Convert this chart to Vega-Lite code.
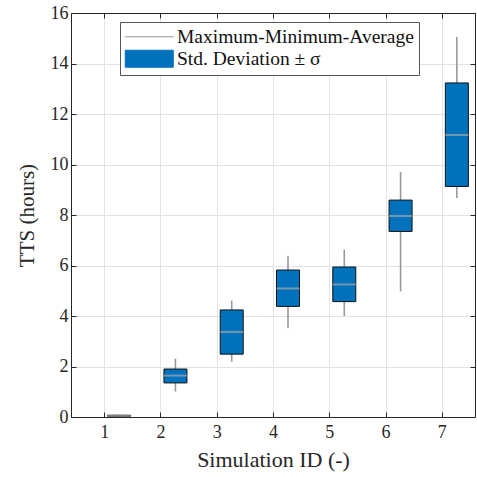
{
  "$schema": "https://vega.github.io/schema/vega-lite/v6.json",
  "width": 404,
  "height": 404,
  "autosize": "none",
  "padding": {"left": 71, "top": 13, "right": 2, "bottom": 60},
  "background": "white",
  "data": {
    "values": [
      {"id": 1, "min": 0.01, "max": 0.09, "mean": 0.05, "lo": 0.03, "hi": 0.07},
      {"id": 2, "min": 1.01, "max": 2.31, "mean": 1.64, "lo": 1.35, "hi": 1.90},
      {"id": 3, "min": 2.19, "max": 4.61, "mean": 3.37, "lo": 2.49, "hi": 4.24},
      {"id": 4, "min": 3.51, "max": 6.39, "mean": 5.09, "lo": 4.38, "hi": 5.82},
      {"id": 5, "min": 4.00, "max": 6.63, "mean": 5.25, "lo": 4.57, "hi": 5.94},
      {"id": 6, "min": 4.97, "max": 9.70, "mean": 7.96, "lo": 7.35, "hi": 8.59},
      {"id": 7, "min": 8.67, "max": 15.05, "mean": 11.17, "lo": 9.13, "hi": 13.23}
    ]
  },
  "layer": [
    {
      "mark": {"type": "rule", "strokeWidth": 1.6, "xOffset": 15},
      "encoding": {
        "x": {
          "field": "id", "type": "quantitative",
          "scale": {"domain": [0.5, 7.5], "nice": false, "zero": false},
          "axis": {
            "orient": "bottom", "values": [1, 2, 3, 4, 5, 6, 7], "format": "d",
            "title": "Simulation ID (-)", "grid": true, "tickSize": -5,
            "labelPadding": 11, "titlePadding": 8,
            "labelFont": "serif", "titleFont": "serif", "titleFontSize": 22
          }
        },
        "y": {
          "field": "min", "type": "quantitative",
          "scale": {"domain": [0, 16], "nice": false},
          "axis": {
            "orient": "left", "values": [0, 2, 4, 6, 8, 10, 12, 14, 16],
            "title": "TTS (hours)", "grid": true, "tickSize": -5,
            "labelPadding": 8, "titlePadding": 13,
            "labelFont": "serif", "titleFont": "serif", "titleFontSize": 21
          }
        },
        "y2": {"field": "max"},
        "color": {
          "datum": "Maximum-Minimum-Average", "type": "nominal",
          "scale": {
            "domain": ["Maximum-Minimum-Average", "Std. Deviation ± σ"],
            "range": ["#999999", "#0072BD"]
          },
          "legend": {
            "title": null, "orient": "none", "legendX": 49, "legendY": 9,
            "fillColor": "white", "strokeColor": "#555555", "padding": 5,
            "rowPadding": 1, "symbolSize": 100, "symbolOffset": 14.5, "labelOffset": 18,
            "labelFont": "serif",
            "labelFontSize": 19.5, "labelColor": "#111111", "labelLimit": 400,
            "encode": {
              "symbols": {
                "update": {
                  "shape": {"signal": "datum.value === 'Maximum-Minimum-Average' ? 'M-4.9,0H4.9' : 'M-4.8,-1.7H4.8V1.7H-4.8Z'"},
                  "stroke": {"signal": "datum.value === 'Maximum-Minimum-Average' ? '#999999' : '#111111'"},
                  "fill": {"signal": "datum.value === 'Maximum-Minimum-Average' ? 'transparent' : '#0072BD'"},
                  "strokeWidth": {"value": 1},
                  "opacity": {"value": 1}
                }
              }
            }
          }
        }
      }
    },
    {
      "mark": {"type": "bar", "width": 23, "xOffset": 15, "stroke": "#111111", "strokeWidth": 1},
      "encoding": {
        "x": {
          "field": "id", "type": "quantitative",
          "axis": {"orient": "top", "values": [1, 2, 3, 4, 5, 6, 7], "labels": false, "title": null, "grid": false, "tickSize": -5}
        },
        "y": {
          "field": "lo", "type": "quantitative",
          "axis": {"orient": "right", "values": [0, 2, 4, 6, 8, 10, 12, 14, 16], "labels": false, "title": null, "grid": false, "tickSize": -5}
        },
        "y2": {"field": "hi"},
        "color": {"datum": "Std. Deviation ± σ", "type": "nominal"}
      }
    },
    {
      "mark": {"type": "tick", "orient": "horizontal", "size": 23, "thickness": 2, "xOffset": 15, "color": "#a6a6a6"},
      "encoding": {
        "x": {"field": "id", "type": "quantitative", "axis": null},
        "y": {"field": "mean", "type": "quantitative", "axis": null}
      }
    }
  ],
  "resolve": {"axis": {"x": "independent", "y": "independent"}},
  "config": {
    "font": "serif",
    "view": {"stroke": null},
    "style": {
      "guide-label": {"font": "serif"},
      "guide-title": {"font": "serif"}
    },
    "axis": {
      "domainColor": "#262626", "domainWidth": 1, "tickColor": "#262626",
      "gridColor": "#e3e3e3", "gridWidth": 1,
      "labelFont": "serif", "labelFontSize": 18, "labelColor": "#262626",
      "titleFont": "serif", "titleFontWeight": "normal", "titleColor": "#262626"
    },
    "legend": {"labelFont": "serif"}
  }
}
